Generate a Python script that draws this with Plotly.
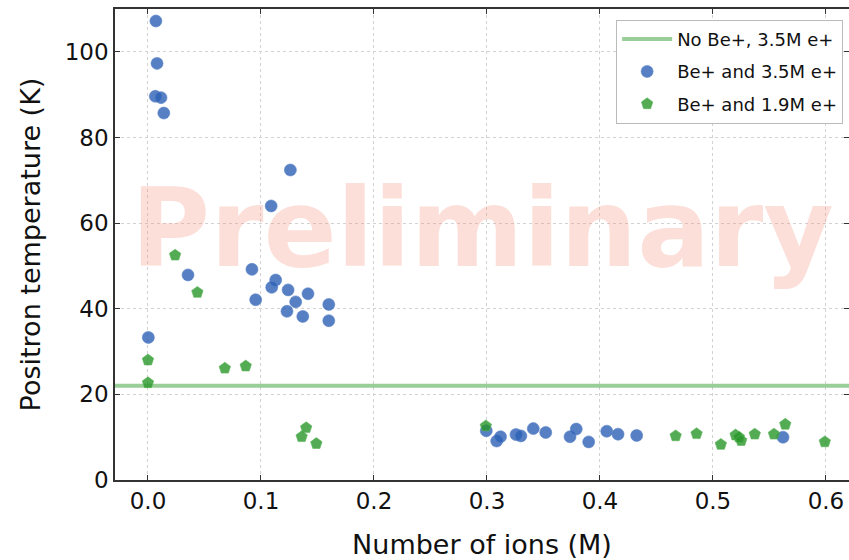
import plotly.graph_objects as go

# Data
blue_x = [0.007, 0.008, 0.0065, 0.0115, 0.014, 0.126, 0.109, 0.0354, 0.092, 0.113, 0.1095,
          0.124, 0.1416, 0.1307, 0.0953, 0.160, 0.123, 0.137, 0.160, 0.0003,
          0.2994, 0.3086, 0.312, 0.3257, 0.330, 0.341, 0.352, 0.3735, 0.379, 0.390,
          0.406, 0.416, 0.4325, 0.562]
blue_y = [107.2, 97.3, 89.6, 89.3, 85.7, 72.4, 64.0, 47.9, 49.2, 46.7, 45.0,
          44.4, 43.5, 41.6, 42.1, 41.0, 39.4, 38.2, 37.2, 33.3,
          11.5, 9.1, 10.1, 10.6, 10.3, 12.0, 11.1, 10.1, 11.9, 8.9,
          11.4, 10.7, 10.4, 10.0]

green_x = [0.024, 0.0437, 0.0, 0.0, 0.068, 0.0865, 0.140, 0.136, 0.149,
           0.299, 0.467, 0.4855, 0.507, 0.520, 0.523, 0.525, 0.537, 0.554, 0.564, 0.599]
green_y = [52.5, 43.8, 28.0, 22.7, 26.1, 26.6, 12.2, 10.1, 8.5,
           12.6, 10.3, 10.8, 8.3, 10.5, 10.0, 9.2, 10.7, 10.7, 13.0, 8.9]

baseline_T = 22.0
x_range = [-0.0292, 0.6204]
y_range = [0, 110]
x_ticks = [0.0, 0.1, 0.2, 0.3, 0.4, 0.5, 0.6]
y_ticks = [0, 20, 40, 60, 80, 100]

FONT = "DejaVu Sans"

fig = go.Figure()
fig.add_trace(go.Scatter(
    x=x_range, y=[baseline_T, baseline_T], mode="lines",
    line=dict(color="rgba(110,185,110,0.7)", width=4),
    name="No Be+, 3.5M e+", legendgroup="a"))
fig.add_trace(go.Scatter(
    x=blue_x, y=blue_y, mode="markers",
    marker=dict(symbol="circle", size=12, color="rgba(44,96,180,0.8)",
                line=dict(width=1, color="rgba(90,130,200,0.6)")),
    name="Be+ and 3.5M e+", legendgroup="b"))
fig.add_trace(go.Scatter(
    x=green_x, y=green_y, mode="markers",
    marker=dict(symbol="pentagon", size=12, color="rgba(40,150,40,0.8)",
                line=dict(width=1, color="rgba(90,180,90,0.6)")),
    name="Be+ and 1.9M e+", legendgroup="c"))

fig.add_annotation(
    text="<b>Preliminary</b>", x=0.5, y=0.535, xref="paper", yref="paper",
    showarrow=False, font=dict(family="DejaVu Sans", size=108, color="rgba(245,150,130,0.3)"))

axis_common = dict(
    showgrid=True, gridcolor="#d2d2d2", griddash="dot", gridwidth=1,
    showline=True, linecolor="#333333", linewidth=1.5, mirror="ticks",
    ticks="inside", ticklen=5, tickcolor="#333333", zeroline=False,
    automargin=False,
    tickfont=dict(family=FONT, size=23, color="#111111"))

fig.update_xaxes(range=x_range, tickvals=x_ticks, ticktext=[f"{v:.1f}" for v in x_ticks],
                 title=dict(text="Number of ions (M)", font=dict(family=FONT, size=27, color="#111111"),
                            standoff=26),
                 **axis_common)
fig.update_yaxes(range=y_range, tickvals=y_ticks,
                 title=dict(text="Positron temperature (K)", font=dict(family=FONT, size=27, color="#111111"),
                            standoff=16),
                 **axis_common)

fig.update_layout(
    width=849, height=560,
    margin=dict(l=115, r=0, t=9, b=80),
    plot_bgcolor="white", paper_bgcolor="white",
    legend=dict(x=0.992, y=0.977, xanchor="right", yanchor="top",
                bgcolor="white", bordercolor="#bbbbbb", borderwidth=1,
                font=dict(family=FONT, size=18, color="#111111"),
                itemwidth=50, tracegroupgap=6),
    showlegend=True)

fig.write_html("out.html", config={"displayModeBar": False},
               post_script="document.body.style.margin='0';document.body.style.overflow='hidden';")
